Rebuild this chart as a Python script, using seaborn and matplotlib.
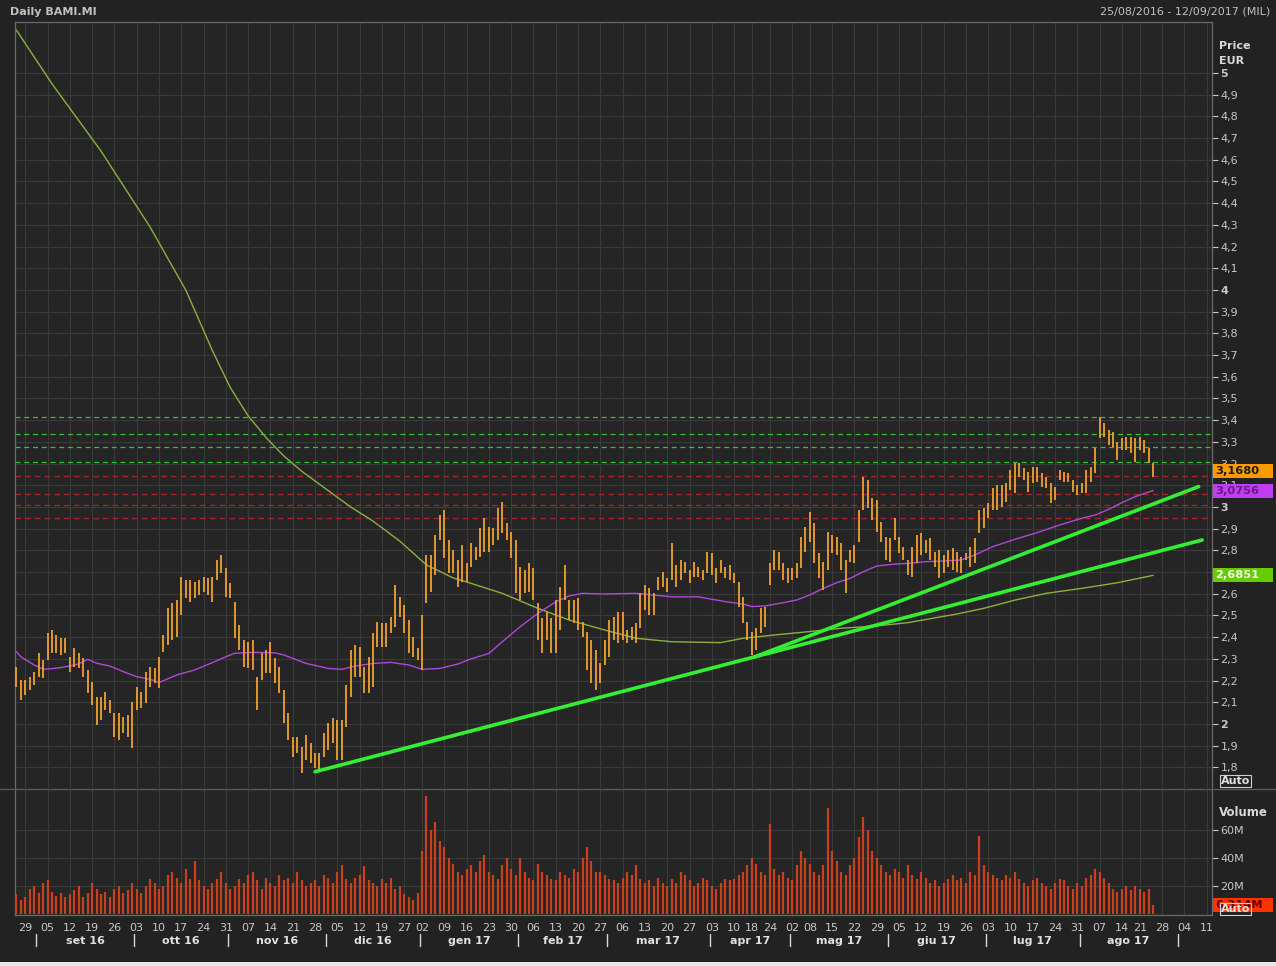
import numpy as np
import pandas as pd
import matplotlib
matplotlib.use("Agg")
import matplotlib.pyplot as plt
import matplotlib.transforms as mtransforms
from matplotlib.lines import Line2D
from matplotlib.patches import Rectangle
import seaborn as sns

# ---------------- data ----------------
START_DATE = "2016-08-25"
END_DATE = "2017-09-12"
HOLIDAYS = ["2016-12-26", "2017-04-14", "2017-04-17", "2017-05-01", "2017-08-15"]
MONTH_NAMES = ["gen", "feb", "mar", "apr", "mag", "giu", "lug", "ago", "set", "ott", "nov", "dic"]

high = [2.264, 2.203, 2.203, 2.218, 2.241, 2.326, 2.295, 2.418, 2.433, 2.410, 2.395, 2.395, 2.310, 2.349, 2.326,
        2.303, 2.249, 2.195, 2.126, 2.126, 2.149, 2.111, 2.049, 2.049, 2.034, 2.042, 2.103, 2.172, 2.149, 2.241,
        2.264, 2.257, 2.310, 2.410, 2.533, 2.556, 2.572, 2.679, 2.664, 2.664, 2.656, 2.664, 2.679, 2.671, 2.679,
        2.756, 2.779, 2.717, 2.648, 2.564, 2.456, 2.387, 2.379,
        2.387, 2.218, 2.325, 2.341, 2.379, 2.302, 2.264, 2.156, 2.049, 1.941, 1.941, 1.895, 1.949, 1.911, 1.865,
        1.865, 1.957, 2.003, 2.026, 2.018, 2.018, 2.179, 2.341, 2.364, 2.356, 2.264, 2.310, 2.418, 2.471, 2.464,
        2.464, 2.494, 2.640, 2.586, 2.548, 2.479, 2.402, 2.348, 2.502, 2.778, 2.778, 2.871, 2.963, 2.986, 2.848,
        2.802, 2.755, 2.825, 2.740, 2.832, 2.817,
        2.901, 2.947, 2.909, 2.901, 2.994, 3.024, 2.924, 2.886, 2.848, 2.725, 2.709, 2.740, 2.717, 2.556, 2.487,
        2.517, 2.487, 2.571, 2.633, 2.732, 2.571, 2.571, 2.579, 2.471, 2.425, 2.387, 2.341, 2.279, 2.387, 2.479,
        2.494, 2.517, 2.517, 2.433, 2.448, 2.464, 2.602, 2.640, 2.625, 2.602, 2.679, 2.702, 2.671, 2.832, 2.732,
        2.755, 2.748, 2.709, 2.748, 2.725, 2.709, 2.794, 2.786, 2.717,
        2.756, 2.725, 2.733, 2.694, 2.656, 2.587, 2.472, 2.426, 2.441, 2.533, 2.541, 2.741, 2.802, 2.794, 2.741,
        2.717, 2.717, 2.741, 2.863, 2.909, 2.978, 2.925, 2.787, 2.748, 2.886, 2.871, 2.863, 2.833, 2.756, 2.802,
        2.825, 2.986, 3.140, 3.124, 3.040, 3.032, 2.932, 2.863, 2.856, 2.948, 2.863, 2.817, 2.756, 2.817, 2.871,
        2.879, 2.848, 2.856, 2.794, 2.802, 2.779, 2.802, 2.810, 2.794,
        2.771, 2.786, 2.817, 2.856, 2.986, 2.994, 3.017, 3.086, 3.101, 3.101, 3.109, 3.170, 3.201, 3.201, 3.178,
        3.163, 3.186, 3.186, 3.155, 3.140, 3.109, 3.094, 3.170, 3.163, 3.155, 3.124, 3.101, 3.109, 3.170, 3.186,
        3.270, 3.416, 3.385, 3.355, 3.347, 3.301, 3.316, 3.324, 3.324, 3.316, 3.324, 3.309, 3.270, 3.201]

low = [2.172, 2.111, 2.134, 2.157, 2.180, 2.218, 2.211, 2.295, 2.326, 2.326, 2.318, 2.326, 2.241, 2.264, 2.257,
       2.218, 2.141, 2.088, 1.996, 2.019, 2.065, 2.049, 1.942, 1.926, 1.957, 1.942, 1.888, 2.065, 2.072, 2.095,
       2.172, 2.188, 2.165, 2.333, 2.364, 2.387, 2.403, 2.502, 2.579, 2.564, 2.579, 2.595, 2.610, 2.595, 2.564,
       2.664, 2.694, 2.587, 2.579, 2.395, 2.341, 2.264, 2.257,
       2.249, 2.064, 2.202, 2.233, 2.233, 2.187, 2.141, 2.003, 1.926, 1.849, 1.865, 1.772, 1.834, 1.818, 1.795,
       1.780, 1.849, 1.880, 1.911, 1.834, 1.834, 1.987, 2.126, 2.218, 2.218, 2.141, 2.141, 2.172, 2.356, 2.356,
       2.356, 2.418, 2.448, 2.494, 2.418, 2.325, 2.310, 2.295, 2.249, 2.556, 2.610, 2.686, 2.848, 2.763, 2.694,
       2.694, 2.633, 2.656, 2.656, 2.725, 2.755,
       2.771, 2.794, 2.794, 2.825, 2.848, 2.878, 2.848, 2.763, 2.602, 2.571, 2.602, 2.610, 2.571, 2.387, 2.325,
       2.387, 2.325, 2.325, 2.433, 2.571, 2.479, 2.464, 2.433, 2.402, 2.249, 2.187, 2.156, 2.187, 2.272, 2.310,
       2.387, 2.371, 2.387, 2.371, 2.387, 2.371, 2.441, 2.525, 2.502, 2.502, 2.617, 2.633, 2.610, 2.663, 2.633,
       2.663, 2.694, 2.648, 2.679, 2.679, 2.663, 2.694, 2.686, 2.648,
       2.694, 2.671, 2.664, 2.648, 2.541, 2.464, 2.387, 2.318, 2.341, 2.418, 2.449, 2.641, 2.710, 2.710, 2.664,
       2.648, 2.664, 2.671, 2.717, 2.794, 2.840, 2.741, 2.671, 2.618, 2.710, 2.787, 2.779, 2.710, 2.602, 2.748,
       2.741, 2.840, 2.986, 2.994, 2.940, 2.886, 2.840, 2.756, 2.748, 2.848, 2.787, 2.756, 2.687, 2.679, 2.741,
       2.779, 2.787, 2.756, 2.725, 2.671, 2.694, 2.725, 2.710, 2.702,
       2.694, 2.756, 2.725, 2.740, 2.879, 2.902, 2.948, 2.986, 2.986, 3.001, 3.025, 3.078, 3.063, 3.140, 3.124,
       3.071, 3.109, 3.117, 3.094, 3.086, 3.017, 3.032, 3.124, 3.117, 3.117, 3.071, 3.055, 3.063, 3.063, 3.117,
       3.155, 3.316, 3.324, 3.286, 3.278, 3.217, 3.263, 3.263, 3.247, 3.209, 3.263, 3.247, 3.201, 3.140]

volume_m = [14, 10, 12, 18, 20, 15, 22, 24, 16, 13, 15, 12, 14, 17, 20, 12, 15, 22, 18, 14, 16, 12, 18, 20, 15, 17, 22,
            18, 15, 20, 25, 22, 18, 20, 28, 30, 26, 22, 32, 25, 38, 24, 20, 18, 22, 25, 30, 22, 18,
            20, 25, 22, 28, 30, 24, 18, 26, 22, 20, 28, 24, 26, 22, 30, 24, 20, 22,
            24, 20, 28, 26, 22, 30, 35, 25, 22, 26, 28, 34, 24, 22, 20, 25, 22, 26, 18, 20, 14, 12, 10, 15,
            45, 84, 60, 66, 52, 48, 40, 36, 30, 28, 32, 35, 30, 38, 42, 30, 28, 25, 35, 40,
            32, 28, 40, 30, 26, 24, 36, 30, 28, 25, 24, 30, 28, 26, 32, 30, 40, 48, 38, 30,
            30, 28, 25, 24, 22, 26, 30, 28, 35, 25, 22, 24, 20, 26, 22, 20, 25, 22, 30, 28, 24, 20, 22, 26, 24, 20, 18,
            22, 25, 24,
            25, 28, 30, 35, 40, 36, 30, 28, 64, 32, 28, 30, 26, 24, 35, 45, 40, 36, 30, 28,
            35, 76, 45, 38, 30, 28, 35, 40, 55, 69, 60, 45, 40, 35, 30, 28, 32, 30, 26, 35,
            28, 25, 30, 26, 22, 24, 20, 22, 25, 28, 24, 26, 22, 30, 28, 56, 35, 30, 28, 26,
            24, 28, 26, 30, 25, 22, 20, 24, 26, 22, 20, 18, 22, 25, 24, 20, 18, 22, 20, 26,
            28, 32, 30, 26, 22, 18, 16, 18, 20, 17, 20, 18, 16, 18, 6.314]

# moving averages read at selected trading-day indices
ma_fast_idx = [0, 1, 4, 6, 9, 12, 14, 16, 18, 21, 24, 27, 30, 32, 36, 40, 44, 47, 49, 53, 58, 60, 65, 70, 73, 76,
               80, 84, 88, 91, 95, 99, 102, 106, 109, 113, 117, 121, 124, 127, 132, 139, 143, 147, 153, 156, 159,
               163, 165, 168, 172, 175, 178, 181, 184, 187, 190, 193, 197, 200, 204, 208, 212, 215, 219, 224, 229,
               234, 239, 242, 245, 248, 251, 255]
ma_fast_val = [2.333, 2.310, 2.272, 2.252, 2.257, 2.267, 2.277, 2.298, 2.280, 2.267, 2.241, 2.218, 2.206, 2.191,
               2.226, 2.249, 2.283, 2.310, 2.326, 2.330, 2.328, 2.318, 2.279, 2.256, 2.252, 2.267, 2.279, 2.284,
               2.272, 2.252, 2.256, 2.276, 2.300, 2.325, 2.379, 2.448, 2.510, 2.563, 2.590, 2.602, 2.599, 2.602,
               2.594, 2.586, 2.586, 2.575, 2.564, 2.553, 2.541, 2.544, 2.559, 2.571, 2.595, 2.625, 2.651, 2.671,
               2.702, 2.728, 2.737, 2.740, 2.748, 2.751, 2.756, 2.779, 2.817, 2.851, 2.882, 2.917, 2.948, 2.963,
               2.989, 3.020, 3.048, 3.076]
ma_slow_idx = [0, 8, 19, 30, 38, 44, 48, 52, 56, 60, 64, 70, 75, 80, 86, 92, 98, 102, 109, 117, 124, 132, 139,
               147, 158, 163, 170, 178, 185, 193, 200, 211, 217, 224, 231, 239, 247, 255]
ma_slow_val = [5.198, 4.950, 4.640, 4.290, 4.000, 3.720, 3.550, 3.420, 3.320, 3.235, 3.165, 3.075, 3.000, 2.935,
               2.843, 2.733, 2.673, 2.648, 2.602, 2.533, 2.479, 2.433, 2.395, 2.379, 2.375, 2.395, 2.410, 2.426,
               2.441, 2.452, 2.467, 2.507, 2.533, 2.571, 2.602, 2.625, 2.651, 2.685]

last_close = 3.1680
last_ma_fast = 3.0756
last_ma_slow = 2.6851
last_volume_m = 6.314

green_levels = [3.415, 3.336, 3.276, 3.207]
red_levels = [3.143, 3.060, 3.009, 2.949]
trend_a_idx = [67, 266]
trend_a_val = [1.780, 2.848]
trend_b_idx = [165.6, 265.2]
trend_b_val = [2.309, 3.094]

price_ticks = [round(1.8 + 0.1 * i, 1) for i in range(33)]
volume_ticks = [20, 40, 60]
volume_tick_labels = ["20M", "40M", "60M"]

# ---------------- styling ----------------
BG = "#222222"
AX_BG = "#252525"
GRID = "#3a3a3a"
TXT = "#c8c8c8"
ORANGE = "#f0a030"
PURPLE = "#b048d8"
OLIVE = "#8cb040"
TREND = "#33ee33"
GDASH = "#2fc42f"
RDASH = "#a82424"
VOLC = "#c8401c"

sns.set_theme(style="dark", rc={
    "axes.facecolor": AX_BG, "figure.facecolor": BG, "grid.color": GRID,
    "grid.linewidth": 0.8, "axes.edgecolor": "#707070", "text.color": TXT,
    "xtick.color": TXT, "ytick.color": TXT,
})
plt.rcParams["font.family"] = ["DejaVu Sans"]

W, H = 1276, 966
fig = plt.figure(figsize=(W / 100, H / 100), dpi=100, facecolor=BG)
L, R = 15, 1212
axp = fig.add_axes([L / W, 1 - 788 / H, (R - L) / W, (788 - 22) / H])
axv = fig.add_axes([L / W, 1 - 915 / H, (R - L) / W, (915 - 790) / H])

# trading days
days = pd.bdate_range(START_DATE, END_DATE)
days = days[~days.isin(pd.to_datetime(HOLIDAYS))]
n_days = len(days)
all_idx = np.arange(n_days)
iso = days.isocalendar()
week_key = (iso["year"].values * 100 + iso["week"].values)
first_in_week = pd.Series(all_idx).groupby(week_key).min().values
week_ticks = [int(i) for i in first_in_week if i > 0]
month_key = days.year * 100 + days.month
first_in_month = pd.Series(all_idx).groupby(np.asarray(month_key)).min().values
month_starts = [int(i) for i in first_in_month if i > 0]

XMAX = n_days - 0.8
for ax in (axp, axv):
    ax.set_facecolor(AX_BG)
    ax.set_xlim(-0.3, XMAX)
    ax.set_xticks(week_ticks)
    ax.grid(True, axis="both", color=GRID, lw=0.8)
    ax.set_axisbelow(True)
    for s in ax.spines.values():
        s.set_color("#6a6a6a")
        s.set_linewidth(0.9)

# ---------------- price panel ----------------
bar_idx = np.arange(len(high))
axp.vlines(bar_idx, low, high, color=ORANGE, lw=1.3, zorder=4)

for lv in green_levels:
    axp.axhline(lv, color=GDASH, lw=0.9, ls=(0, (4, 3)), zorder=2)
for lv in red_levels:
    axp.axhline(lv, color=RDASH, lw=1.0, ls=(0, (4, 3)), zorder=2)

sns.lineplot(x=ma_slow_idx, y=ma_slow_val, ax=axp, color=OLIVE, lw=1.0, zorder=3)
sns.lineplot(x=ma_fast_idx, y=ma_fast_val, ax=axp, color=PURPLE, lw=1.0, zorder=3)
sns.lineplot(x=trend_a_idx, y=trend_a_val, ax=axp, color=TREND, lw=2.6, zorder=5)
sns.lineplot(x=trend_b_idx, y=trend_b_val, ax=axp, color=TREND, lw=2.6, zorder=5)

y0, y1 = 1.705, 5.235
axp.set_ylim(y0, y1)
axp.yaxis.tick_right()
axp.set_yticks(price_ticks)
labels = []
for t in price_ticks:
    labels.append(str(int(round(t))) if abs(t - round(t)) < 1e-6 else f"{t:.1f}".replace(".", ","))
axp.set_yticklabels(labels)
for t, lab in zip(price_ticks, axp.get_yticklabels()):
    if abs(t - round(t)) < 1e-6:
        lab.set_fontweight("bold")
        lab.set_color("#e8e8e8")
axp.tick_params(axis="y", direction="out", length=4, width=0.8, labelsize=8, pad=2, colors=TXT)
axp.tick_params(axis="x", length=0, labelbottom=False)
axp.set_xlabel("")
axp.set_ylabel("")
axp.spines["bottom"].set_visible(False)


# right-side value boxes
def value_box(ax, value, text, fc, tc):
    trans = mtransforms.blended_transform_factory(ax.transAxes, ax.transData)
    lo, hi = ax.get_ylim()
    half = 7.0 * (hi - lo) / ax.bbox.height
    x0 = 1.0 + 1.0 / ax.bbox.width
    wid = 60.0 / ax.bbox.width
    ax.add_patch(Rectangle((x0, value - half), wid, 2 * half, transform=trans,
                           facecolor=fc, edgecolor="none", clip_on=False, zorder=10))
    ax.text(x0 + 2.0 / ax.bbox.width, value, text, transform=trans, color=tc,
            fontsize=8.2, fontweight="bold", va="center", ha="left", clip_on=False, zorder=11)


# ---------------- volume panel ----------------
axv.vlines(np.arange(len(volume_m)), 0, volume_m, color=VOLC, lw=1.6, zorder=3)
axv.set_ylim(-0.7, 88.6)
axv.yaxis.tick_right()
axv.set_yticks(volume_ticks)
axv.set_yticklabels(volume_tick_labels)
axv.tick_params(axis="y", direction="out", length=4, width=0.8, labelsize=8, pad=2, colors=TXT)
axv.set_xticklabels([f"{days[i].day:02d}" for i in week_ticks])
axv.tick_params(axis="x", direction="out", length=5, width=0.8, labelsize=8, pad=1, colors=TXT)
axv.spines["top"].set_visible(False)

# month separators and names
trans_v = mtransforms.blended_transform_factory(axv.transData, axv.transAxes)
for m in month_starts:
    axv.add_line(Line2D([m - 0.5, m - 0.5], [-0.15, -0.25], transform=trans_v, color="#d8d8d8",
                        lw=1.0, clip_on=False))
bounds = month_starts
for a, b in zip(bounds[:-1], bounds[1:]):
    d = days[a]
    name = f"{MONTH_NAMES[d.month - 1]} {d.year % 100:02d}"
    axv.text((a + b) / 2 - 0.5, -0.205, name, transform=trans_v, ha="center", va="center",
             fontsize=8, fontweight="bold", color="#e0e0e0", clip_on=False)

# value boxes
value_box(axp, last_close, "3,1680", "#ff9900", "#1a1a1a")
value_box(axp, last_ma_fast, "3,0756", "#c23df0", "#6a1a8a")
value_box(axp, last_ma_slow, "2,6851", "#66cc00", "#f4f4f4")

# "Auto" boxes
fig.text(1221 / W, 1 - 781 / H, "Auto", fontsize=8, fontweight="bold", color="#e0e0e0",
         va="center", ha="left", bbox=dict(fc="none", ec="#d0d0d0", lw=0.8, pad=0.8))
fig.text(1221 / W, 1 - 909 / H, "Auto", fontsize=8, fontweight="bold", color="#e0e0e0",
         va="center", ha="left", bbox=dict(fc="none", ec="#d0d0d0", lw=0.8, pad=0.8))
value_box(axv, last_volume_m, "6,314M", "#ff3300", "#6a0000")

# header texts
fig.text(10 / W, 1 - 12 / H, "Daily BAMI.MI", fontsize=8, fontweight="bold", color="#c0c0c0",
         va="center", ha="left")
fig.text(1270 / W, 1 - 12 / H, "25/08/2016 - 12/09/2017 (MIL)", fontsize=8, color="#c0c0c0",
         va="center", ha="right")
fig.text(1219 / W, 1 - 46 / H, "Price", fontsize=8, fontweight="bold", color="#d8d8d8", va="center")
fig.text(1219 / W, 1 - 61 / H, "EUR", fontsize=8, fontweight="bold", color="#d8d8d8", va="center")
fig.text(1219 / W, 1 - 812 / H, "Volume", fontsize=8.5, fontweight="bold", color="#d8d8d8", va="center")

# panel separator across full width and bottom strip
fig.add_artist(Line2D([0, 1], [1 - 789 / H, 1 - 789 / H], transform=fig.transFigure, color="#5a5a5a", lw=1.0))
fig.add_artist(Rectangle((0, 0), 1, 4 / H, transform=fig.transFigure, facecolor="#e6e6e6", edgecolor="none"))

fig.savefig("out.png", dpi=100, facecolor=BG)
